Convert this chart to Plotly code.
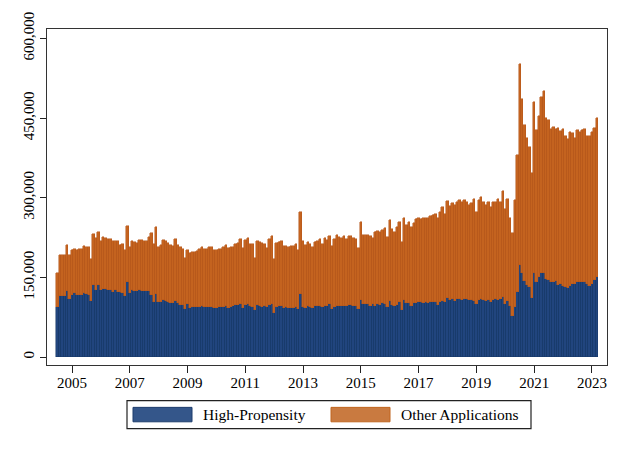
import pandas as pd
import plotly.graph_objects as go

# Monthly business applications (thousands), July 2004 - March 2023
start_month = "2004-07"

high_propensity_k = [
    95, 114, 114, 114, 124, 110, 117, 121, 117, 117, 117, 121, 118, 116, 106, 135, 126, 135, 126, 129,
    128, 127, 127, 123, 126, 123, 122, 120, 115, 141, 120, 126,
    124.5, 125, 126, 125, 124.5, 124, 124, 116, 104, 118.5, 103, 103.5, 107, 105, 104, 101.5, 101, 105,
    101, 98, 98, 89.5, 100, 93, 94, 94, 94.5, 94.5, 96, 94, 94.5, 94.5,
    94.5, 93, 93, 93.5, 93.5, 94.5, 96, 92, 94.5, 96, 97, 97.5, 100, 92, 98, 99, 96, 95, 88, 98,
    96.5, 94.5, 95.5, 94, 98, 99, 82, 95, 96, 96, 93, 94, 93,
    93, 92, 94, 89.5, 118.5, 93.7, 92, 95.5, 93.7, 92, 96.7, 95.5, 96.7, 94, 96.7, 95.5, 99, 89.5, 94, 96.7,
    95.5, 95.5, 96.7, 95.5, 98, 98, 96.7, 95.5, 90.6, 108, 99, 99, 99,
    96.7, 99, 96.7, 99, 98, 101.5, 99.7, 94, 106, 98.6, 96.7, 98.6, 104, 88, 107.7, 101.5, 101.5, 96.7, 101.5, 101.5,
    102.8, 102.8, 102, 102.8, 101.5, 102.8, 104, 104, 98, 104, 106, 102.8,
    111.8, 107.7, 108.8, 106.4, 108.8, 108.8, 107.7, 108.8, 108.8, 107.7, 107.7, 106.4, 99.7, 107.7, 108.8, 107.7,
    105.8, 107.7, 104, 107.7, 108.8, 107.7, 108.8, 112.4, 99.7, 105.8, 96.7, 76.8, 93.7, 122, 174, 158.4,
    144, 135.4, 131.8, 111, 158.4, 141.4, 150, 158.4, 158.4, 147.5, 145, 141.4, 140.3, 142.6, 135.4, 137.8,
    134, 131.8, 129.4, 134, 136.7, 136.7, 140.3, 140.3, 140.3, 141.4, 137.8, 134, 136.7, 145, 150,
]

total_applications_k = [
    159, 193, 192, 192, 211.5, 193, 202, 204, 201, 203, 203, 209.7, 208, 206.7, 184, 231, 225, 234.5, 217.5, 226,
    223.6, 223, 222.5, 218, 219, 218.5, 211.5, 212, 202, 246.5, 207, 217.5,
    215.7, 214.6, 220.6, 220.6, 218.5, 217.5, 226, 232.7, 213, 244, 208, 210, 220, 217.5, 215, 210, 209, 222.4,
    210, 206.7, 204, 186, 202, 195, 197, 197.5, 199, 202.5, 208, 202.5, 204, 208,
    208, 200.6, 201, 202.5, 204, 207.5, 211, 205, 208, 208, 213, 214, 222, 204.5, 220, 224, 213, 213, 186, 219,
    216, 214, 212.5, 205, 221.5, 227, 184, 214, 216, 217.5, 208.5, 208.5, 208,
    208.5, 208.5, 213, 202, 273.7, 218.8, 211.5, 216.4, 213, 206.7, 216.4, 217.5, 221.8, 213, 223.6, 221, 227.8, 209,
    222.4, 229, 226, 224, 227, 221.8, 227, 227.8, 225, 222.4, 205, 254.5, 229.6, 230, 230.5,
    228.5, 224, 234.5, 237, 234.5, 239, 243, 225.5, 258.7, 240.5, 235.7, 244, 255, 216.4, 261.7, 248, 254.5, 245.4,
    252.7, 260, 262.3, 260, 262.3, 261, 261, 266, 267, 269.5, 261, 273, 281.7, 269,
    293.6, 284, 290, 285.3, 292.6, 296, 291.3, 296, 291.3, 285.3, 290, 297.3, 273.7, 296, 301, 291.3, 286.4, 291.3,
    282.8, 292.6, 292.6, 297.3, 292.6, 313, 278, 297.3, 261, 232.7, 296, 380.7, 551, 486,
    436, 412, 395, 347, 481, 427.8, 453, 489.4, 500, 450.8, 447, 430, 432.7, 430, 431, 425.5, 430, 417, 411, 424,
    421.8, 412, 427.8, 423, 426.7, 430, 417, 417, 424, 431, 450.8,
]

tick_years = [2005, 2007, 2009, 2011, 2013, 2015, 2017, 2019, 2021, 2023]
y_ticks = [0, 150000, 300000, 450000, 600000]
y_tick_labels = ["0", "150,000", "300,000", "450,000", "600,000"]
series_names = ["High-Propensity", "Other Applications"]

high_propensity = [v * 1000 for v in high_propensity_k]
other_applications = [(t - h) * 1000 for t, h in zip(total_applications_k, high_propensity_k)]

months = pd.period_range(start_month, periods=len(high_propensity), freq="M")
x_vals = [p.year + (p.month - 1) / 12 for p in months]
x_labels = [p.strftime("%Y-%m") for p in months]

BLUE = "#21457e"
BLUE_LINE = "#163765"
ORANGE = "#c4631f"
ORANGE_LINE = "#b3561a"
FONT = "Liberation Serif"
FS = 15

fig = go.Figure()
fig.add_trace(go.Bar(
    x=x_vals, y=high_propensity, name=series_names[0], width=1 / 12,
    marker=dict(color=BLUE, line=dict(color=BLUE_LINE, width=0.5)),
    customdata=x_labels, hovertemplate="%{customdata}: %{y:,}<extra></extra>",
))
fig.add_trace(go.Bar(
    x=x_vals, y=other_applications, name=series_names[1], width=1 / 12,
    marker=dict(color=ORANGE, line=dict(color=ORANGE_LINE, width=0.5)),
    customdata=x_labels, hovertemplate="%{customdata}: %{y:,}<extra></extra>",
))

W, H = 624, 453
ML, MR, MT, MB = 47, 17, 16, 88
PW, PH = W - ML - MR, H - MT - MB


def px(xp):
    return (xp - ML) / PW


def py(yp):
    return (H - MB - yp) / PH


shapes = [
    dict(type="rect", xref="paper", yref="paper", x0=px(127), x1=px(531), y0=py(402), y1=py(431),
         line=dict(color="#222222", width=1.2), fillcolor="white", layer="above"),
    dict(type="rect", xref="paper", yref="paper", x0=px(133), x1=px(192), y0=py(409), y1=py(424),
         line=dict(color="#1d3c6c", width=1), fillcolor="#34568a"),
    dict(type="rect", xref="paper", yref="paper", x0=px(331), x1=px(390), y0=py(409), y1=py(424),
         line=dict(color="#c0651e", width=1), fillcolor="#c97a40"),
]
annotations = [
    dict(xref="paper", yref="paper", x=px(201), y=py(416.5), text=series_names[0], showarrow=False,
         xanchor="left", yanchor="middle", font=dict(family=FONT, size=FS + 0.5, color="black")),
    dict(xref="paper", yref="paper", x=px(399), y=py(416.5), text=series_names[1], showarrow=False,
         xanchor="left", yanchor="middle", font=dict(family=FONT, size=FS + 0.5, color="black")),
]

fig.update_layout(
    width=W, height=H,
    margin=dict(l=ML, r=MR, t=MT, b=MB, pad=0),
    barmode="stack", bargap=0,
    showlegend=False,
    plot_bgcolor="white", paper_bgcolor="white",
    font=dict(family=FONT, size=FS, color="black"),
    shapes=shapes, annotations=annotations,
    xaxis=dict(
        range=[2004.1345, 2023.5225],
        tickvals=tick_years, ticktext=[str(y) for y in tick_years],
        ticks="outside", ticklen=7, tickwidth=1, tickcolor="#222222",
        showline=True, linecolor="#333333", linewidth=1.3, mirror=True,
        showgrid=False, zeroline=False, ticklabelstandoff=-3,
        tickfont=dict(family=FONT, size=FS, color="black"),
    ),
    yaxis=dict(
        range=[-15045, 617583],
        tickvals=y_ticks, ticktext=y_tick_labels, tickangle=-90,
        ticks="outside", ticklen=6, tickwidth=1, tickcolor="#222222",
        showline=True, linecolor="#333333", linewidth=1.3, mirror=True,
        showgrid=False, zeroline=False, ticklabeloverflow="allow",
        tickfont=dict(family=FONT, size=FS, color="black"),
    ),
)

fig.write_html("out.html", config={"displayModeBar": False},
               post_script="document.body.style.margin='0';")
